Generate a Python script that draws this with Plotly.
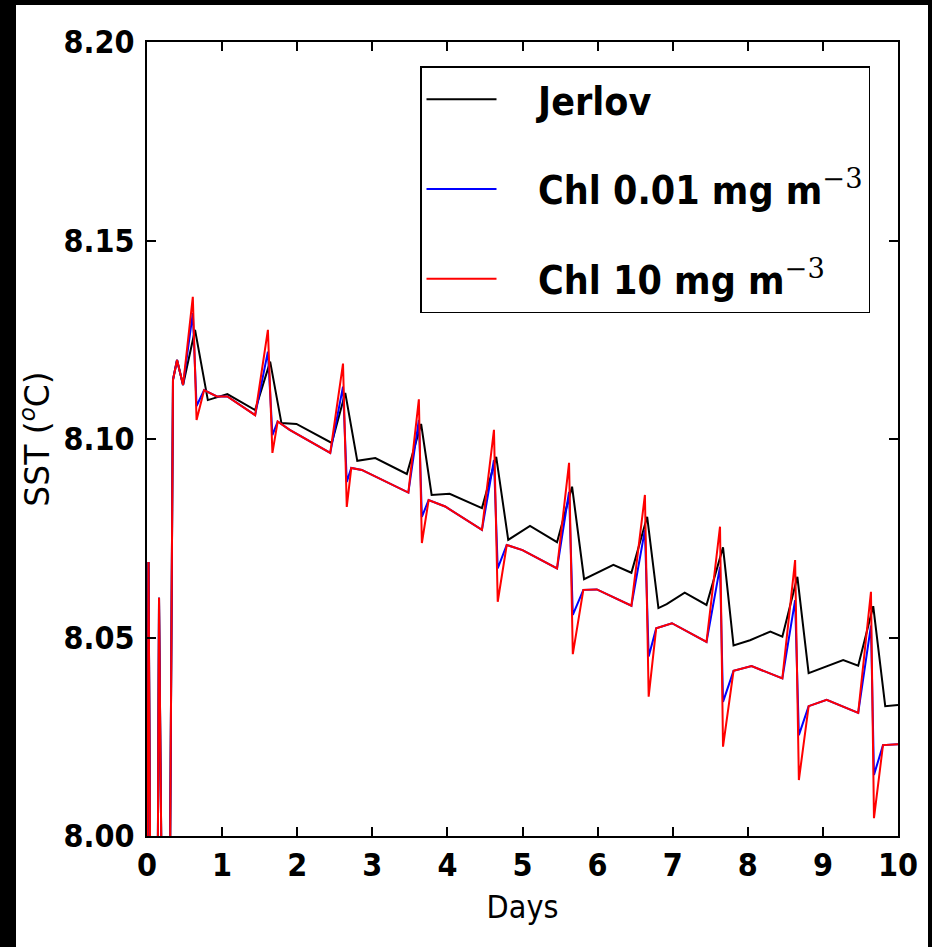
import plotly.graph_objects as go

# ---- data ----
t_jerlov = [0, 0.02, 0.055, 0.133, 0.16, 0.213, 0.293,
            0.346, 0.40, 0.48,
            0.64, 0.81, 1.07, 1.44,
            1.64, 1.79, 1.99, 2.46,
            2.64, 2.80, 3.04, 3.46,
            3.65, 3.79, 4.03, 4.46,
            4.65, 4.81, 5.10, 5.46,
            5.66, 5.82, 6.21, 6.45,
            6.66, 6.81, 6.92, 7.16, 7.45,
            7.67, 7.81, 8.03, 8.30, 8.46,
            8.66, 8.81, 9.27, 9.47,
            9.67, 9.83, 10.0]
sst_jerlov = [7.95, 8.069, 7.95, 7.95, 8.060, 7.95, 7.95,
              8.1149, 8.1199, 8.1136,
              8.1275, 8.1098, 8.1113, 8.1073,
              8.1195, 8.1040, 8.1038, 8.0990,
              8.1116, 8.0945, 8.0952, 8.0912,
              8.1038, 8.0859, 8.0862, 8.0826,
              8.0955, 8.0746, 8.0781, 8.0740,
              8.0880, 8.0647, 8.0683, 8.0663,
              8.0804, 8.0574, 8.0584, 8.0613, 8.0582,
              8.0727, 8.0480, 8.0493, 8.0515, 8.0502,
              8.0653, 8.0410, 8.0443, 8.0429,
              8.0579, 8.0327, 8.0330]

t_chl = [0, 0.02, 0.055, 0.133, 0.16, 0.213, 0.293,
         0.346, 0.40, 0.48,
         0.61, 0.66, 0.76, 0.93, 1.07, 1.44,
         1.61, 1.67, 1.74, 1.90, 2.44,
         2.61, 2.66, 2.72, 2.86, 3.48,
         3.62, 3.66, 3.75, 3.97, 4.46,
         4.62, 4.67, 4.79, 5.00, 5.46,
         5.62, 5.67, 5.81, 5.99, 6.45,
         6.63, 6.68, 6.78, 6.99, 7.45,
         7.63, 7.67, 7.81, 8.05, 8.46,
         8.63, 8.68, 8.81, 9.05, 9.47,
         9.64, 9.68, 9.80, 10.0]
sst_chl001 = [7.95, 8.069, 7.95, 7.95, 8.060, 7.95, 7.95,
              8.1149, 8.1199, 8.1136,
              8.1317, 8.1083, 8.1123, 8.1107, 8.1107, 8.1060,
              8.1220, 8.1010, 8.1044, 8.1023, 8.0965,
              8.1132, 8.0892, 8.0927, 8.0922, 8.0865,
              8.1048, 8.0804, 8.0846, 8.0830, 8.0771,
              8.0947, 8.0674, 8.0733, 8.0720, 8.0674,
              8.0867, 8.0557, 8.0620, 8.0621, 8.0580,
              8.0771, 8.0452, 8.0523, 8.0536, 8.0489,
              8.0678, 8.0338, 8.0416, 8.0428, 8.0397,
              8.0594, 8.0254, 8.0327, 8.0343, 8.0310,
              8.0530, 8.0154, 8.0229, 8.0231]
sst_chl10 = [7.95, 8.069, 7.95, 7.95, 8.060, 7.95, 7.95,
             8.1149, 8.1199, 8.1136,
             8.1358, 8.1048, 8.1123, 8.1107, 8.1107, 8.1060,
             8.1275, 8.0965, 8.1044, 8.1023, 8.0965,
             8.1190, 8.0829, 8.0927, 8.0922, 8.0865,
             8.1100, 8.0738, 8.0846, 8.0830, 8.0771,
             8.1023, 8.0590, 8.0733, 8.0720, 8.0674,
             8.0940, 8.0458, 8.0620, 8.0621, 8.0580,
             8.0859, 8.0351, 8.0523, 8.0536, 8.0489,
             8.0779, 8.0225, 8.0416, 8.0428, 8.0397,
             8.0695, 8.0141, 8.0327, 8.0343, 8.0310,
             8.0615, 8.0045, 8.0229, 8.0231]

x_ticks = [0, 1, 2, 3, 4, 5, 6, 7, 8, 9, 10]
y_ticks = [8.00, 8.05, 8.10, 8.15, 8.20]

# ---- layout constants ----
W, H = 932, 947
ML, MR, MT, MB = 147, 34, 42, 111
PW, PH = W - ML - MR, H - MT - MB

def px_x(p):
    return (p - ML) / PW

def px_y(p):
    return (H - MB - p) / PH

BOLD = "DejaVu Sans Condensed, Liberation Sans Narrow, DejaVu Sans"
SUP = "<sup><span style=\"font-family:'DejaVu Serif';font-weight:normal\">\u22123</span></sup>"
PAD = "\u00a0\u00a0\u00a0"

fig = go.Figure()
fig.add_trace(go.Scatter(x=t_jerlov, y=sst_jerlov, mode="lines", name=PAD + "Jerlov",
                         legendgroup="a", line=dict(color="black", width=2)))
fig.add_trace(go.Scatter(x=t_chl, y=sst_chl001, mode="lines",
                         name=PAD + "Chl 0.01 mg m" + SUP,
                         legendgroup="b", line=dict(color="blue", width=2)))
fig.add_trace(go.Scatter(x=t_chl, y=sst_chl10, mode="lines",
                         name=PAD + "Chl 10 mg m" + SUP,
                         legendgroup="c", line=dict(color="red", width=2)))

axis_common = dict(showline=True, linecolor="black", linewidth=2, mirror="ticks",
                   ticks="inside", ticklen=9, tickwidth=1.5, tickcolor="black",
                   showgrid=False, zeroline=False,
                   tickfont=dict(family=BOLD, size=32, color="black", weight="bold"))

fig.update_xaxes(range=[0, 10], tickvals=x_ticks, ticktext=[str(v) for v in x_ticks],
                 title=dict(text="Days", standoff=12,
                            font=dict(family="DejaVu Sans Condensed, DejaVu Sans", size=32, color="black")),
                 ticklabelstandoff=0,
                 **axis_common)
fig.update_yaxes(range=[8.00, 8.20], tickvals=y_ticks, ticktext=[f"{v:.2f}" for v in y_ticks],
                 title=dict(text="SST (<sup><i>o</i></sup>C)", standoff=4,
                            font=dict(family="DejaVu Sans", size=33, color="black")),
                 ticklabelstandoff=4,
                 **axis_common)

shapes = []
for x0, x1, y0, y1 in [(0, 16, 0, H), (0, W, 0, 5), (928, W, 0, H)]:
    shapes.append(dict(type="rect", xref="paper", yref="paper", layer="above",
                       x0=px_x(x0), x1=px_x(x1), y0=px_y(y1), y1=px_y(y0),
                       fillcolor="black", line=dict(width=0)))

fig.update_layout(
    width=W, height=H,
    margin=dict(l=ML, r=MR, t=MT, b=MB, autoexpand=False),
    paper_bgcolor="white", plot_bgcolor="white",
    shapes=shapes,
    legend=dict(x=px_x(420), y=px_y(66), xanchor="left", yanchor="top",
                bgcolor="white", bordercolor="black", borderwidth=1.5,
                traceorder="grouped", tracegroupgap=36, itemwidth=70,
                font=dict(family=BOLD, size=39, color="black", weight="bold")),
    showlegend=True,
)

fig.write_html("out.html")
